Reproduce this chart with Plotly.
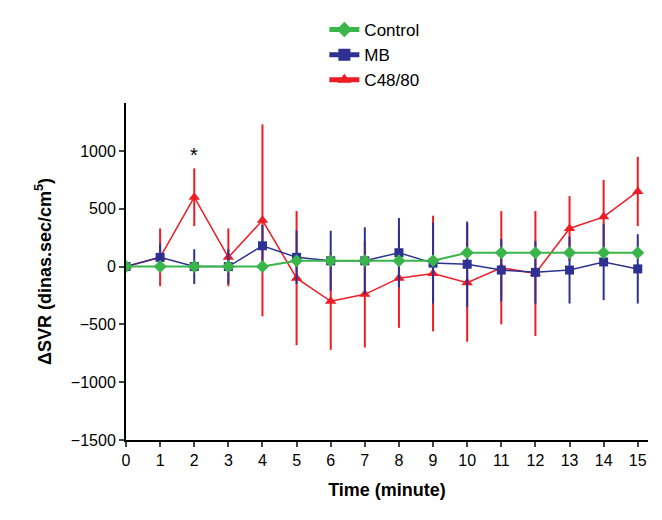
import plotly.graph_objects as go

t = list(range(16))
ctrl = [0,0,0,0,0,50,50,50,50,50,120,120,120,120,120,120]
mb = [0,80,0,0,180,80,50,50,120,30,20,-30,-50,-30,40,-20]
mb_err = [0,120,150,150,180,230,260,290,300,350,370,270,270,290,330,300]
c48 = [0,80,600,80,400,-100,-300,-240,-100,-60,-140,-10,-60,330,430,650]
c48_err = [0,250,250,250,830,580,420,460,430,500,510,490,540,280,320,300]

fig = go.Figure()
fig.add_trace(go.Scatter(x=t, y=c48, name="C48/80", mode="lines+markers",
    line=dict(color="#ee1c24", width=1.5), marker=dict(symbol="triangle-up", size=10),
    error_y=dict(array=c48_err, color="#ee1c24", thickness=2, width=0)))
fig.add_trace(go.Scatter(x=t, y=mb, name="MB", mode="lines+markers",
    line=dict(color="#2e3192", width=1.5), marker=dict(symbol="square", size=9),
    error_y=dict(array=mb_err, color="#2e3192", thickness=2, width=0)))
fig.add_trace(go.Scatter(x=t, y=ctrl, name="Control", mode="lines+markers",
    line=dict(color="#39b54a", width=2), marker=dict(symbol="diamond", size=10)))
fig.add_annotation(x=2, y=850, text="*", showarrow=False, yanchor="bottom",
    font=dict(size=20, color="black"))
fig.update_layout(
    width=662, height=520, plot_bgcolor="white", paper_bgcolor="white",
    margin=dict(l=118, r=22, t=95, b=88, autoexpand=False),
    font=dict(family="Liberation Sans, Arial", color="black", size=16),
    legend=dict(x=0.38, y=1.27, xanchor="left", yanchor="top", traceorder="reversed",
                font=dict(size=17), bgcolor="rgba(0,0,0,0)", tracegroupgap=0,
                itemsizing="constant"),
    xaxis=dict(range=[0, 15.3], tickvals=t, showline=True, linecolor="black", linewidth=2,
               ticks="outside", ticklen=5, tickwidth=2, showgrid=False, zeroline=False,
               title=dict(text="<b>Time (minute)</b>", font=dict(size=18))),
    yaxis=dict(range=[-1500, 1415], tickvals=list(range(-1500, 1001, 500)),
               showline=True, linecolor="black", linewidth=2, ticks="outside", ticklen=5,
               tickwidth=2, showgrid=False, zeroline=False,
               title=dict(text="<b>ΔSVR (dinas.sec/cm<sup>5</sup>)</b>", font=dict(size=18))),
)
fig.write_html("out.html")
